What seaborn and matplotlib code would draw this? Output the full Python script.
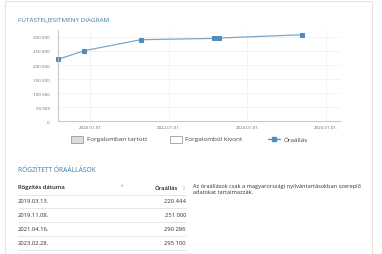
import matplotlib
matplotlib.use('Agg')
import pandas as pd
import matplotlib.pyplot as plt
from matplotlib.patches import Rectangle
from matplotlib.lines import Line2D
import seaborn as sns

# Adatok (óraállás rögzítések)
datumok = ['2019-03-13', '2019-11-08', '2021-04-16', '2023-02-28', '2023-04-15', '2025-05-22']
oraallas = [220444, 251000, 290286, 295100, 296300, 308000]
tabla_datumok = ['2019.03.13.', '2019.11.08.', '2021.04.16.', '2023.02.28.']
tabla_ertekek = ['220 444', '251 000', '290 286', '295 100']
x_tick_datumok = ['2020-01-01', '2022-01-01', '2024-01-01', '2026-01-01']
x_tick_cimkek = ['2020.01.01', '2022.01.01', '2024.01.01.', '2026.01.01.']
y_tickek = [0, 50000, 100000, 150000, 200000, 250000, 300000]

df = pd.DataFrame({'datum': pd.to_datetime(datumok), 'oraallas': oraallas})

sns.set_style('white')
plt.rcParams['font.family'] = ['Open Sans', 'DejaVu Sans']

W, H = 382, 255
fig = plt.figure(figsize=(W / 100, H / 100), dpi=100)
fig.patch.set_facecolor('white')


def px(x, y):
    return x / W, 1 - y / H


# kártya keret
fig.patches.append(Rectangle((5 / W, 0), 367 / W, 1 - 2 / H, transform=fig.transFigure,
                             fill=False, edgecolor='#e4e4e4', lw=0.8))

kek = '#3d7aa6'
szurke_szoveg = '#444444'
pont_szin = '#4f8cc2'

fig.text(*px(18, 19), 'FUTÁSTELJESÍTMÉNY DIAGRAM', fontsize=4.6, color=kek, va='center')

# Diagram
ax = fig.add_axes([58 / W, 1 - 122 / H, 283 / W, 91 / H])
sns.lineplot(data=df, x='datum', y='oraallas', ax=ax, color='#7aa7c9', lw=0.9,
             marker='s', markersize=3.4, markerfacecolor=pont_szin, markeredgecolor=pont_szin,
             clip_on=False)
ax.set_xlim(pd.Timestamp('2019-03-10'), pd.Timestamp('2026-05-20'))
ax.set_ylim(0, 325000)
ax.set_yticks(y_tickek)
ax.set_yticklabels([f'{v:,}'.replace(',', ' ') for v in y_tickek])
ax.set_xticks(pd.to_datetime(x_tick_datumok))
ax.set_xticklabels(x_tick_cimkek)
ax.tick_params(axis='both', labelsize=3.2, colors='#666666', length=0)
ax.tick_params(axis='y', pad=6)
ax.tick_params(axis='x', pad=3)
ax.set_xlabel('')
ax.set_ylabel('')
ax.grid(True, color='#eeeeee', lw=0.5)
for s in ['top', 'right']:
    ax.spines[s].set_visible(False)
for s in ['left', 'bottom']:
    ax.spines[s].set_color('#bbbbbb')
    ax.spines[s].set_linewidth(0.6)

# Jelmagyarázat
fig.patches.append(Rectangle(px(71, 144), 12 / W, 7 / H, transform=fig.transFigure,
                             facecolor='#dcdcdc', edgecolor='#888888', lw=0.5))
fig.text(*px(87, 140), 'Forgalomban tartott', fontsize=4.6, color=szurke_szoveg, va='center')
fig.patches.append(Rectangle(px(170, 144), 12 / W, 7 / H, transform=fig.transFigure,
                             facecolor='white', edgecolor='#888888', lw=0.5))
fig.text(*px(185, 140), 'Forgalomból kivont', fontsize=4.6, color=szurke_szoveg, va='center')
fig.lines.append(Line2D([268 / W, 280 / W], [1 - 140 / H] * 2, transform=fig.transFigure,
                        color=pont_szin, lw=0.9))
fig.lines.append(Line2D([274 / W], [1 - 140 / H], transform=fig.transFigure,
                        color=pont_szin, marker='s', markersize=2.6, lw=0))
fig.text(*px(284, 140), 'Óraállás', fontsize=4.6, color=szurke_szoveg, va='center')

# Rögzített óraállások
fig.text(*px(18, 171), 'RÖGZÍTETT ÓRAÁLLÁSOK', fontsize=4.8, color=kek, va='center')
fig.text(*px(18, 188), 'Rögzítés dátuma', fontsize=4.2, color='#222222', va='center', fontweight='semibold')
fig.text(*px(122, 186), '▲', fontsize=2.2, color='#aaaaaa', va='center', ha='center')
fig.text(*px(178, 188), 'Óraállás', fontsize=4.2, color='#222222', va='center', ha='right',
         fontweight='semibold')
fig.text(*px(184, 188), '↕', fontsize=3.5, color='#bbbbbb', va='center', ha='center',
         family=['DejaVu Sans'])

sor_y = [202, 216, 230, 244]
vonal_y = [196, 209, 223, 237, 251]
for y in vonal_y:
    fig.lines.append(Line2D([18 / W, 186 / W], [1 - y / H] * 2, transform=fig.transFigure,
                            color='#e2e2e2', lw=0.6))
for y, d, v in zip(sor_y, tabla_datumok, tabla_ertekek):
    fig.text(*px(18, y), d, fontsize=4.2, color='#333333', va='center')
    fig.text(*px(186, y), v, fontsize=4.2, color='#333333', va='center', ha='right')

fig.text(*px(193, 184), 'Az óraállások csak a magyarországi nyilvántartásokban szereplő\nadatokat tartalmazzák.',
         fontsize=4.1, color='#333333', va='top', linespacing=1.3)

fig.savefig('out.png', dpi=100)
plt.close(fig)
